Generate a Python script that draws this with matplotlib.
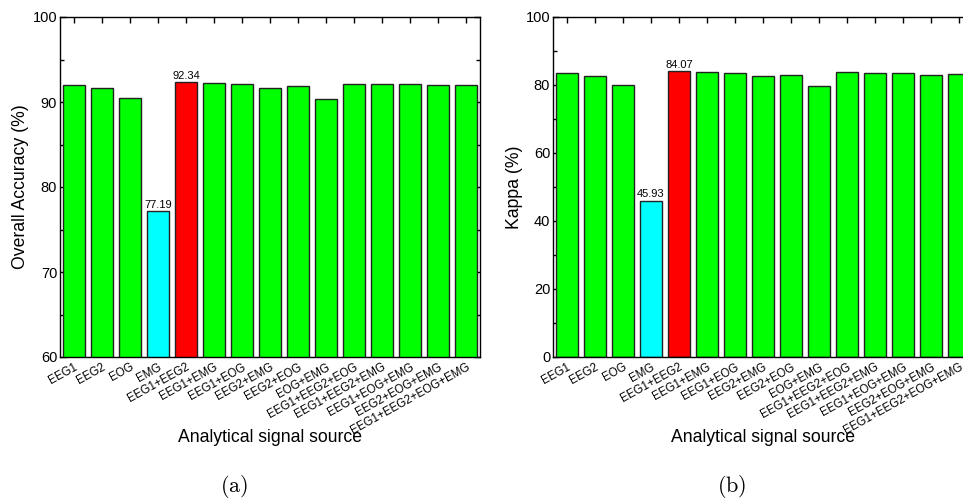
import matplotlib
matplotlib.use("Agg")
import matplotlib.pyplot as plt
from matplotlib.ticker import MultipleLocator

plt.rcParams['font.family'] = ['Liberation Sans', 'DejaVu Sans']
plt.rcParams['mathtext.fontset'] = 'cm'

categories = ["EEG1", "EEG2", "EOG", "EMG", "EEG1+EEG2", "EEG1+EMG", "EEG1+EOG",
              "EEG2+EMG", "EEG2+EOG", "EOG+EMG", "EEG1+EEG2+EOG", "EEG1+EEG2+EMG",
              "EEG1+EOG+EMG", "EEG2+EOG+EMG", "EEG1+EEG2+EOG+EMG"]
accuracy = [92.0, 91.6, 90.47, 77.19, 92.34, 92.24, 92.12, 91.65, 91.84, 90.31,
            92.16, 92.12, 92.12, 91.96, 91.96]
kappa = [83.4, 82.55, 80.0, 45.93, 84.07, 83.8, 83.5, 82.55, 83.0, 79.6,
         83.7, 83.6, 83.6, 83.0, 83.1]
bar_colors = ["#00ff00"] * 3 + ["#00ffff", "#ff0000"] + ["#00ff00"] * 10
annotate_idx = [3, 4]

W, H = 963, 503
fig = plt.figure(figsize=(W / 100, H / 100), dpi=100)


def panel(left_px, values, ylim, major, minor, ylabel, ylabel_x, caption, caption_x):
    ax = fig.add_axes([left_px / W, 1 - 357 / H, 420 / W, 340 / H])
    x = list(range(1, len(categories) + 1))
    ax.bar(x, values, width=0.8, color=bar_colors, edgecolor="#222222", linewidth=1.0, zorder=2)
    ax.set_xlim(0.5, 15.5)
    ax.set_ylim(*ylim)
    ax.yaxis.set_major_locator(MultipleLocator(major))
    ax.yaxis.set_minor_locator(MultipleLocator(minor))
    ax.set_xticks(x)
    ax.set_xticklabels(categories, rotation=29, ha='right', rotation_mode='anchor', fontsize=8.3)
    ax.tick_params(axis='both', which='both', direction='in', top=True, right=True, width=1)
    ax.tick_params(axis='both', which='major', length=4)
    ax.tick_params(axis='y', which='minor', length=3)
    ax.tick_params(axis='x', which='minor', bottom=False, top=False)
    ax.tick_params(axis='y', labelsize=10.5, pad=2)
    ax.tick_params(axis='x', pad=3)
    for s in ax.spines.values():
        s.set_linewidth(1.0)
    for i in annotate_idx:
        ax.text(x[i], values[i] + (ylim[1] - ylim[0]) * 0.004, f"{values[i]:.2f}",
                ha='center', va='bottom', fontsize=8)
    fig.text((left_px + 210) / W, 1 - 437 / H, "Analytical signal source",
             ha='center', va='center', fontsize=12.7)
    fig.text(ylabel_x / W, 1 - 187 / H, ylabel, rotation=90, ha='center', va='center', fontsize=12.7)
    fig.text(caption_x / W, 1 - 486 / H, r"$\mathrm{(" + caption + r")}$",
             ha='center', va='center', fontsize=16)
    return ax


panel(60, accuracy, (60, 100), 10, 5, "Overall Accuracy (%)", 21, "a", 234)
panel(553, kappa, (0, 100), 20, 10, "Kappa (%)", 514, "b", 732)

fig.savefig("out.png", dpi=100)
